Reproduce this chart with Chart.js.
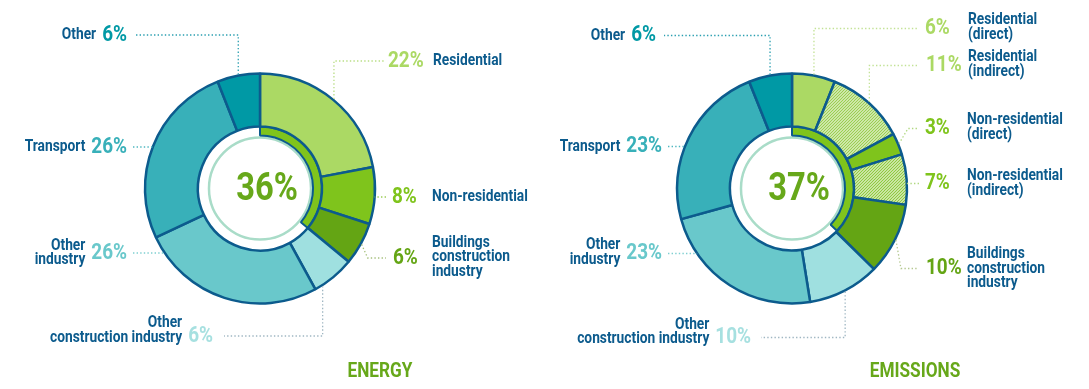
<!DOCTYPE html>
<html>
<head>
<meta charset="utf-8">
<script src="https://cdn.jsdelivr.net/npm/chart.js@4.4.0/dist/chart.umd.min.js"></script>
<style>
html, body { margin: 0; padding: 0; background: #fff; width: 1089px; height: 389px; overflow: hidden; }
canvas { position: absolute; top: 0; }
#energy { left: 0; }
#emissions { left: 544px; }
</style>
</head>
<body>
<canvas id="energy" width="544" height="389"></canvas>
<canvas id="emissions" width="545" height="389"></canvas>
<script>
// data
const energyLabels = [['Residential'], ['Non-residential'], ['Buildings', 'construction', 'industry'],
    ['Other', 'construction industry'], ['Other', 'industry'], ['Transport'], ['Other']];
const energyValues = [22, 8, 6, 6, 26, 26, 6];
const energyBuildings = 36;

const emissionsLabels = [['Residential', '(direct)'], ['Residential', '(indirect)'], ['Non-residential', '(direct)'],
    ['Non-residential', '(indirect)'], ['Buildings', 'construction', 'industry'], ['Other', 'construction industry'],
    ['Other', 'industry'], ['Transport'], ['Other']];
const emissionsValues = [6, 11, 3, 7, 10, 10, 23, 23, 6];
const emissionsBuildings = 37;

const titles = ['ENERGY', 'EMISSIONS'];

// styles
const BLUE = '#0c5b8d';
const LIGHT_GREEN = '#abd964';
const GREEN = '#7fc41c';
const DARK_GREEN = '#64a514';
const PALE_CYAN = '#9fe0e0';
const CYAN = '#69c8cb';
const TEAL = '#38b0b9';
const DEEP_TEAL = '#0099a5';
const SQUEEZE = 0.86;

function hatch(canvasId, stripe) {
    const c = document.createElement('canvas');
    c.width = 3; c.height = 3;
    const g = c.getContext('2d');
    g.fillStyle = '#e6f3d2';
    g.fillRect(0, 0, 3, 3);
    g.strokeStyle = stripe;
    g.lineWidth = 1.2;
    g.beginPath();
    g.moveTo(0, 3); g.lineTo(3, 0);
    g.moveTo(-1, 1); g.lineTo(1, -1);
    g.moveTo(2, 4); g.lineTo(4, 2);
    g.stroke();
    return document.getElementById(canvasId).getContext('2d').createPattern(c, 'repeat');
}

const energyFill = [LIGHT_GREEN, GREEN, DARK_GREEN, PALE_CYAN, CYAN, TEAL, DEEP_TEAL];
const energyPct = [LIGHT_GREEN, GREEN, DARK_GREEN, '#a6e0e0', CYAN, TEAL, DEEP_TEAL];
const energyLine = ['#b9de85', '#9ccd55', '#a7c07e', '#9fb6c2', '#7fcfd1', '#4fb7c0', '#2a9fb0'];

const emissionsFill = [LIGHT_GREEN, hatch('emissions', '#98cd4c'), GREEN, hatch('emissions', '#8cc83a'),
    DARK_GREEN, PALE_CYAN, CYAN, TEAL, DEEP_TEAL];
const emissionsPct = [LIGHT_GREEN, LIGHT_GREEN, GREEN, GREEN, DARK_GREEN, '#a6e0e0', CYAN, TEAL, DEEP_TEAL];
const emissionsLine = ['#c2e295', '#c2e295', '#b0d880', '#b0d880', '#b4c890', '#9fb6c2', '#7fcfd1', '#4fb7c0', '#2a9fb0'];

// label placement relative to the doughnut centre
const energyPlace = [
    { side: 'right', route: 'v', pctDx: 128, pctDy: -127.5, textDx: 173, lineDx: 124 },
    { side: 'right', route: 'h', pctDx: 132, pctDy: 8.5, textDx: 172, lineDx: 126 },
    { side: 'right', route: 'v', knee: 6, pctDx: 133, pctDy: 69.5, textDx: 172, textDy: 68.5, lineDx: 126 },
    { side: 'left', route: 'v', t: 0.82, pctDx: -47, pctDy: 147.5, textDy: 142, lineDx: -36 },
    { side: 'left', route: 'h', pctDx: -133, pctDy: 64.5, lineDx: -127 },
    { side: 'left', route: 'h', pctDx: -133, pctDy: -41.5, lineDx: -127 },
    { side: 'left', route: 'v', pctDx: -133, pctDy: -153.5, lineDx: -126 }
];
const emissionsPlace = [
    { side: 'right', route: 'v', pctDx: 133, pctDy: -160, textDx: 176, textDy: -161, lineDx: 126 },
    { side: 'right', route: 'v', pctDx: 134, pctDy: -123, textDx: 176, textDy: -124, lineDx: 126 },
    { side: 'right', route: 'v', knee: 9, pctDx: 133, pctDy: -60, textDx: 175, textDy: -61, lineDx: 127 },
    { side: 'right', route: 'h', pctDx: 133, pctDy: -5, textDx: 175, lineDx: 127 },
    { side: 'right', route: 'v', knee: 5, pctDx: 134, pctDy: 80, textDx: 175, lineDx: 126 },
    { side: 'left', route: 'v', pctDx: -41, pctDy: 149, textDy: 143.5, lineDx: -31 },
    { side: 'left', route: 'h', pctDx: -130, pctDy: 65, textDy: 64, lineDx: -124 },
    { side: 'left', route: 'h', pctDx: -130, pctDy: -42, lineDx: -124 },
    { side: 'left', route: 'v', pctDx: -136, pctDy: -153, lineDx: -128 }
];

function squeezeText(ctx, text, x, y, font, color, align) {
    ctx.save();
    ctx.font = font;
    ctx.fillStyle = color;
    ctx.textAlign = align;
    ctx.textBaseline = 'middle';
    const w = ctx.measureText(text).width * SQUEEZE;
    ctx.translate(x, y);
    ctx.scale(SQUEEZE, 1);
    ctx.fillText(text, 0, 0);
    ctx.restore();
    return w;
}

const LABEL_FONT = 'bold 16px Roboto';
const PCT_FONT = 'bold 22px Roboto';

const decorPlugin = {
    id: 'decor',
    beforeDatasetsDraw(chart) {
        const inner = chart.getDatasetMeta(1).data[0];
        const ctx = chart.ctx;
        ctx.save();
        ctx.strokeStyle = '#a9dcc8';
        ctx.lineWidth = 2.5;
        ctx.beginPath();
        ctx.arc(inner.x, inner.y, inner.innerRadius - 2, 0, Math.PI * 2);
        ctx.stroke();
        ctx.restore();
    },
    afterDatasetsDraw(chart, args, opts) {
        const ctx = chart.ctx;
        const meta = chart.getDatasetMeta(0);
        const cx = meta.data[0].x, cy = meta.data[0].y, R = meta.data[0].outerRadius;
        const values = chart.data.datasets[0].data;

        opts.place.forEach((p, i) => {
            const arc = meta.data[i];
            const ly = cy + p.pctDy;
            // leader line
            ctx.save();
            ctx.strokeStyle = opts.lineColors[i];
            ctx.lineWidth = 1.3;
            ctx.setLineDash([1.4, 2.2]);
            ctx.beginPath();
            if (p.route === 'h') {
                const half = Math.sqrt(Math.max(R * R - p.pctDy * p.pctDy, 0));
                ctx.moveTo(cx + p.lineDx, ly);
                ctx.lineTo(p.side === 'left' ? cx - half : cx + half, ly);
            } else {
                const a = arc.startAngle + (arc.endAngle - arc.startAngle) * (p.t ?? 0.5);
                const ax = cx + Math.cos(a) * (R + 1), ay = cy + Math.sin(a) * (R + 1);
                ctx.moveTo(ax, ay);
                ctx.lineTo(ax + (p.knee || 0), ly);
                ctx.lineTo(cx + p.lineDx, ly);
            }
            ctx.stroke();
            ctx.restore();

            // percentage and name
            const pct = values[i] + '%';
            const lines = chart.data.labels[i];
            const tdy = p.textDy ?? p.pctDy;
            const lh = 14.5;
            const top = cy + tdy - (lines.length - 1) * lh / 2;
            if (p.side === 'right') {
                squeezeText(ctx, pct, cx + p.pctDx, ly, PCT_FONT, opts.pctColors[i], 'left');
                lines.forEach((t, k) => squeezeText(ctx, t, cx + p.textDx, top + k * lh, LABEL_FONT, BLUE, 'left'));
            } else {
                const w = squeezeText(ctx, pct, cx + p.pctDx, ly, PCT_FONT, opts.pctColors[i], 'right');
                const tx = cx + p.pctDx - w - 6;
                lines.forEach((t, k) => squeezeText(ctx, t, tx, top + k * lh, LABEL_FONT, BLUE, 'right'));
            }
        });

        // centre share and title
        const share = chart.data.datasets[1].data[0] + '%';
        squeezeText(ctx, share, cx + 7, cy + 2, 'bold 38px Roboto', '#67a81a', 'center');
        squeezeText(ctx, opts.title, cx + opts.titleDx, cy + 183, 'bold 20px Roboto', '#67a81a', 'center');
    }
};

function makeChart(id, labels, values, share, fills, pctColors, lineColors, place, title, titleDx, padRight) {
    new Chart(document.getElementById(id), {
        type: 'doughnut',
        data: {
            labels: labels,
            datasets: [{
                data: values,
                backgroundColor: fills,
                borderColor: BLUE,
                borderWidth: 2.5,
                weight: 53
            }, {
                data: [share, 100 - share],
                backgroundColor: [GREEN, 'rgba(0,0,0,0)'],
                borderColor: [BLUE, 'rgba(0,0,0,0)'],
                borderWidth: [2, 0],
                weight: 9
            }]
        },
        options: {
            responsive: false,
            animation: false,
            radius: 115,
            cutout: '46.1%',
            layout: { padding: { left: 0, top: 0, right: padRight, bottom: 12 } },
            plugins: {
                legend: { display: false },
                tooltip: { enabled: false },
                decor: { place: place, pctColors: pctColors, lineColors: lineColors, title: title, titleDx: titleDx }
            }
        },
        plugins: [decorPlugin]
    });
}

makeChart('energy', energyLabels, energyValues, energyBuildings, energyFill, energyPct, energyLine,
    energyPlace, titles[0], 120, 24);
makeChart('emissions', emissionsLabels, emissionsValues, emissionsBuildings, emissionsFill, emissionsPct, emissionsLine,
    emissionsPlace, titles[1], 123, 49);
</script>
</body>
</html>
